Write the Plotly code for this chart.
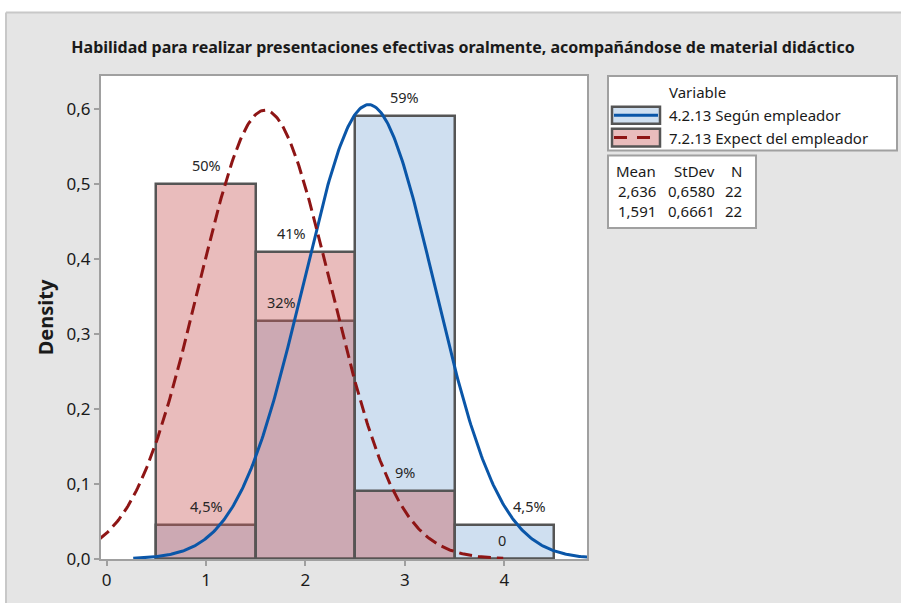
import numpy as np
import plotly.graph_objects as go

# ---- data ----
categories = [1, 2, 3, 4]
series_names = ["4.2.13 Según empleador", "7.2.13 Expect del empleador"]
density_emp = [0.04545, 0.31818, 0.59091, 0.04545]
density_exp = [0.50000, 0.40909, 0.09091, 0.0]
labels_emp = ["4,5%", "32%", "59%", "4,5%"]
labels_exp = ["50%", "41%", "9%", "0"]
label_dx_emp = [0, -24, 0, 25]
label_dx_exp = [0, -14, 0, -2]
means = [2.636, 1.591]
stdevs = [0.6580, 0.6661]
ns = [22, 22]
mean_txt = ["2,636", "1,591"]
sd_txt = ["0,6580", "0,6661"]
y_ticks = [0, 0.1, 0.2, 0.3, 0.4, 0.5, 0.6]
x_ticks = [0, 1, 2, 3, 4]

W, H = 901, 603
L, R, T, B = 101, 587, 76, 562
FONT = "Noto Sans"

def px(x):
    return (x - L) / (R - L)

def py(y):
    return (B - y) / (B - T)

BLUE_FILL = "#cfdff0"
RED_FILL = "rgba(200,88,88,0.4)"
BLUE_LINE = "#0a56a8"
RED_LINE = "#8e1515"
EDGE = "#555555"
TXT = "#1a1a1a"

fig = go.Figure()
fig.add_trace(go.Bar(x=categories, y=density_emp, width=1, name=series_names[0],
                     marker=dict(color=BLUE_FILL, line=dict(color=EDGE, width=2.5)),
                     showlegend=False))
fig.add_trace(go.Bar(x=categories, y=density_exp, width=1, name=series_names[1],
                     marker=dict(color=RED_FILL, line=dict(color=EDGE, width=2.5)),
                     showlegend=False))

def normal_curve(m, s):
    xs = np.linspace(m - 3.6 * s, m + 3.6 * s, 400)
    ys = np.exp(-0.5 * ((xs - m) / s) ** 2) / (s * np.sqrt(2 * np.pi))
    return xs, ys

xb, yb = normal_curve(means[0], stdevs[0])
xr, yr = normal_curve(means[1], stdevs[1])
fig.add_trace(go.Scatter(x=xb, y=yb, mode="lines", line=dict(color=BLUE_LINE, width=3),
                         showlegend=False, hoverinfo="skip"))
fig.add_trace(go.Scatter(x=xr, y=yr, mode="lines",
                         line=dict(color=RED_LINE, width=3, dash="13px,6px"),
                         showlegend=False, hoverinfo="skip"))

annotations = []
for xs_, hs, ls, dxs in [(categories, density_emp, labels_emp, label_dx_emp),
                         (categories, density_exp, labels_exp, label_dx_exp)]:
    for xc, h, lab, dx in zip(xs_, hs, ls, dxs):
        annotations.append(dict(x=xc, y=h, xref="x", yref="y", text=lab, showarrow=False,
                                xshift=dx, yshift=19, yanchor="middle",
                                font=dict(family=FONT, size=14.5, color="#262626")))

shapes = []
# white strips at top and left + light border of gray panel
shapes.append(dict(type="rect", xref="paper", yref="paper", x0=px(-5), x1=px(W + 5),
                   y0=py(12), y1=py(-5), fillcolor="white", line=dict(width=0), layer="below"))
shapes.append(dict(type="rect", xref="paper", yref="paper", x0=px(-5), x1=px(6),
                   y0=py(H + 5), y1=py(-5), fillcolor="white", line=dict(width=0), layer="below"))
shapes.append(dict(type="line", xref="paper", yref="paper", x0=px(6), x1=px(W + 5),
                   y0=py(12), y1=py(12), line=dict(color="#c8c8c8", width=2), layer="below"))
shapes.append(dict(type="line", xref="paper", yref="paper", x0=px(6), x1=px(6),
                   y0=py(12), y1=py(H + 5), line=dict(color="#c8c8c8", width=2), layer="below"))

# legend box
shapes.append(dict(type="rect", xref="paper", yref="paper", x0=px(608), x1=px(897),
                   y0=py(151), y1=py(76), fillcolor="white", line=dict(color="#a0a0a0", width=2)))
annotations.append(dict(x=px(667), y=py(92), xref="paper", yref="paper", text="Variable",
                        showarrow=False, xanchor="left", yanchor="middle",
                        font=dict(family=FONT, size=15, color=TXT)))
sw = [(BLUE_FILL, BLUE_LINE, "solid", 107, 124), (RED_FILL, RED_LINE, "dash", 129, 147)]
for i, (fc, lc, dash, y0, y1) in enumerate(sw):
    shapes.append(dict(type="rect", xref="paper", yref="paper", x0=px(612), x1=px(660),
                       y0=py(y1), y1=py(y0), fillcolor=fc, line=dict(color=EDGE, width=2.5)))
    ym = (y0 + y1) / 2
    shapes.append(dict(type="line", xref="paper", yref="paper", x0=px(614), x1=px(658),
                       y0=py(ym), y1=py(ym),
                       line=dict(color=lc, width=3, dash="13px,10px" if dash == "dash" else "solid")))
    annotations.append(dict(x=px(667), y=py(ym), xref="paper", yref="paper", text=series_names[i],
                            showarrow=False, xanchor="left", yanchor="middle",
                            font=dict(family=FONT, size=15, color=TXT)))

# stats box
shapes.append(dict(type="rect", xref="paper", yref="paper", x0=px(608), x1=px(756),
                   y0=py(229), y1=py(156), fillcolor="white", line=dict(color="#a0a0a0", width=2)))
rows = [("Mean", "StDev", "N", 172)] + [(mean_txt[i], sd_txt[i], str(ns[i]), 192 + 20 * i) for i in range(2)]
col_right = [658, 717, 744]
for row in rows:
    for j in range(3):
        annotations.append(dict(x=px(col_right[j]), y=py(row[3]), xref="paper", yref="paper",
                                text=row[j], showarrow=False, xanchor="right", yanchor="middle",
                                font=dict(family=FONT, size=15, color=TXT)))

fig.update_layout(
    width=W, height=H,
    margin=dict(l=L, r=W - R, t=T, b=H - B, pad=0),
    paper_bgcolor="#e5e5e5", plot_bgcolor="white",
    separators=",.",
    barmode="overlay", bargap=0,
    hovermode=False,
    title=dict(text="<b>Habilidad para realizar presentaciones efectivas oralmente, acompañándose de material didáctico</b>",
               xref="container", yref="container", x=463 / W, y=1 - 47 / H,
               xanchor="center", yanchor="middle",
               font=dict(family=FONT, size=16, color=TXT)),
    xaxis=dict(range=[-0.057, 4.832], tickvals=x_ticks, showgrid=False, zeroline=False,
               showline=True, mirror=True, linecolor="#a0a0a0", linewidth=2,
               ticks="outside", ticklen=5, tickwidth=2, tickcolor="#a0a0a0",
               tickfont=dict(family=FONT, size=17, color=TXT)),
    yaxis=dict(range=[0, 0.6446], tickvals=y_ticks, tickformat=".1f", showgrid=False, zeroline=False,
               showline=True, mirror=True, linecolor="#a0a0a0", linewidth=2,
               ticks="outside", ticklen=5, tickwidth=2, tickcolor="#a0a0a0",
               tickfont=dict(family=FONT, size=17, color=TXT),
               title=dict(text="<b>Density</b>", standoff=8,
                          font=dict(family=FONT, size=20, color=TXT))),
    shapes=shapes, annotations=annotations,
)

fig.write_html("out.html", config={"displayModeBar": False},
               post_script="document.body.style.margin='0';")
